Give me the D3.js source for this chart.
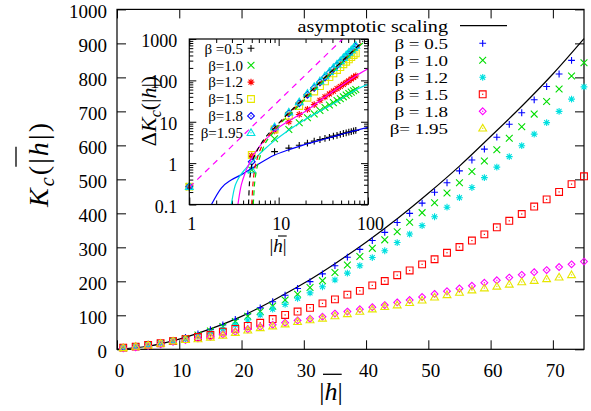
<!DOCTYPE html>
<html>
<head>
<meta charset="utf-8">
<script src="https://cdn.jsdelivr.net/npm/d3@7"></script>
<style>
  html, body { margin: 0; padding: 0; background: #fff; }
  svg { display: block; }
</style>
</head>
<body>
<svg id="chart" width="591" height="411"></svg>
<script>
// ---------- main panel data: K_c(|h|) ----------
const hMain = [1,3,5,7,9,11,13,15,17,19,21,23,25,27,29,31,33,35,37,39,41,43,45,47,49,51,53,55,57,59,61,63,65,67,69,71,73,75];

const kBeta05  = [6,10,15,20,26,35,45,58,72,88,104,122,140,159,179,199,222,246,271,294,320,344,373,400,430,462,490,525,557,589,624,662,696,734,773,810,850];
const kBeta10  = [5,8,13,18,25,32,42,54,67,82,97,111,127,145,162,182,202,226,248,273,297,322,346,374,402,431,460,490,523,554,587,621,655,692,729,766,804,843];
const kBeta12  = [5,8,12,17,24,29,39,47,59,72,86,101,118,132,150,166,184,204,224,246,270,290,314,339,364,390,418,446,476,505,536,567,599,633,667,700,736,772];
const kBeta15  = [5,8,13,18,24,30,36,42,52,60,69,78,89,101,111,122,135,147,161,172,188,201,218,232,250,265,284,301,320,338,359,378,398,420,441,463,486,509];
const kBeta18  = [3,6,10,15,22,27,32,37,44,52,59,66,72,78,85,90,96,105,111,118,124,130,138,145,154,163,171,179,187,196,203,211,219,227,233,242,250,258];
const kBeta195 = [4,8,12,17,24,28,30,35,41,49,56,63,68,74,81,86,91,98,104,111,118,125,130,137,144,153,160,167,174,180,185,191,198,202,207,212,219];

// asymptotic scaling curve
const asymH = [0,5,10,15,20,25,30,35,40,45,50,55,60,65,70,75];
const asymK = [0,9,30,60,97,143,194,252,315,384,459,539,626,715,810,914];

const mainLabels = ["β = 0.5","β = 1.0","β = 1.2","β = 1.5","β = 1.8","β= 1.95"];
const mainColors = ["#0000ff","#00dd00","#00e0e0","#ff0000","#ff00ff","#e6e600"];
const mainShapes = ["plus","cross","star","square","diamond","triangle"];

const mainXTicks = [0,10,20,30,40,50,60,70];
const mainYTicks = [0,100,200,300,400,500,600,700,800,900,1000];

// ---------- inset data: ΔK_c(|h|), log-log ----------
const hInset = [1,5,9,13,17,21,25,29,33,37,41,45,49,53,57,61,65,69,73];

const dBeta05  = [0.27,1.43,1.9,2.3,2.7,3.05,3.4,3.7,3.95,4.2,4.5,4.7,4.95,5.2,5.4,5.6,5.8,6.0,6.2];
const dBeta10  = [0.27,0.68,3.9,6.5,9.5,12.5,15.5,18.7,22,25.5,29,32.5,36,40,44,48,52,56,60];
const dBeta12  = [0.27,1.5,6,10,15,20,26,33,40,47,55,63,71,80,89,98,108,118,128];
const dBeta15  = [0.27,1.57,6.5,14,24,38,54,73,95,120,148,178,210,245,283,322,364,408,450];
const dBeta18  = [0.27,1.08,7,16,28,45,66,90,119,152,190,232,278,330,385,445,510,580,650];
const dBeta195 = [0.27,0.68,7.5,17,30,48,70,96,127,162,202,247,296,351,410,474,544,619,697];

const insetLabels = ["β =0.5","β=1.0","β=1.2","β=1.5","β=1.8","β=1.95"];
const insetColors = ["#000000","#00dd00","#ff0000","#e6e600","#0000ff","#00e0e0"];
const insetShapes = ["plus","cross","star","square","diamond","triangle"];

// fitted curves in the inset, [|h|, ΔK_c] pairs
const fitBeta05  = [[1.77,0.1],[2.28,0.25],[2.94,0.39],[3.8,0.52],[5.35,0.82],[8.9,1.55],[12.5,2.05],[17,2.55],[25,3.25],[40,4.3],[60,5.5],[100,7.3]];
const fitBeta10  = [[2.95,0.1],[3.2,0.25],[3.47,0.39],[4.3,0.75],[5.35,1.25],[7,2.2],[9,3.5],[12.6,6],[20,11.5],[30,18.8],[40,26.5],[60,46],[73,59],[100,80]];
const fitBeta12  = [[3.5,0.1],[3.75,0.25],[4.0,0.42],[4.9,1.2],[6.5,3],[8,4.7],[10,7.2],[15,12.5],[20,18],[30,34],[40,53],[60,96],[73,128],[100,190]];
const fitDashK   = [[4.6,0.1],[4.7,0.3],[4.85,0.6],[5.1,1.1],[5.6,1.8],[7,4],[9,7.2],[13,16.5],[17,29],[25,66],[40,175],[60,400],[73,600],[88,900]];
const fitDashR   = [[5.0,0.1],[5.15,0.3],[5.35,0.65],[5.7,1.2],[6.5,2.6],[9,6.6],[17,27],[40,170],[73,590],[90,900]];
const fitDashG   = [[5.2,0.1],[5.35,0.28],[5.55,0.55],[5.9,1.0],[6.7,2.3],[9,6],[17,25],[40,160],[73,560],[92,880]];
const slopeTwo   = [[1,0.26],[52,1000]];

const insetXMajor = [1,10,100];
const insetYMajor = [0.1,1,10,100,1000];

// ---------- drawing ----------
const FONT = '"Liberation Serif","Times New Roman",Times,serif';
const svg = d3.select("#chart");

const x = d3.scaleLinear().domain([0, 75]).range([117, 584]);
const y = d3.scaleLinear().domain([0, 1000]).range([349.3, 9.4]);

function markerPath(shape, r) {
  switch (shape) {
    case "plus": return `M${-r},0H${r}M0,${-r}V${r}`;
    case "cross": return `M${-r},${-r}L${r},${r}M${-r},${r}L${r},${-r}`;
    case "star": {
      const d = r * 0.72;
      return `M${-r},0H${r}M0,${-r}V${r}M${-d},${-d}L${d},${d}M${-d},${d}L${d},${-d}`;
    }
    case "square": return `M${-r},${-r}H${r}V${r}H${-r}Z`;
    case "diamond": return `M0,${-r}L${r},0L0,${r}L${-r},0Z`;
    case "triangle": return `M0,${-r * 1.15}L${r * 1.15},${r * 0.8}L${-r * 1.15},${r * 0.8}Z`;
  }
}
const hasDot = new Set(["square", "diamond", "triangle"]);

function drawMarkers(g, pts, shape, color, r) {
  const grp = g.append("g");
  grp.selectAll("path").data(pts).join("path")
    .attr("transform", d => `translate(${d[0]},${d[1]})`)
    .attr("d", markerPath(shape, r))
    .attr("fill", "none").attr("stroke", color).attr("stroke-width", 1.1);
  if (hasDot.has(shape)) {
    grp.selectAll("rect").data(pts).join("rect")
      .attr("x", d => d[0] - 0.6).attr("y", d => d[1] - 0.6)
      .attr("width", 1.2).attr("height", 1.2).attr("fill", color);
  }
}

function styleAxis(g, size) {
  g.attr("font-family", FONT).attr("font-size", size);
  g.select(".domain").remove();
  g.selectAll(".tick line").attr("stroke", "#000").attr("stroke-width", 1);
  g.selectAll(".tick text").attr("fill", "#000");
}

// main axes (inward ticks on all four sides)
svg.append("g").attr("transform", "translate(117,0)")
  .call(d3.axisLeft(y).tickValues(mainYTicks).tickSizeInner(-9).tickSizeOuter(0).tickPadding(10).tickFormat(d3.format("d")))
  .call(g => styleAxis(g, 19))
  .call(g => g.selectAll(".tick text").attr("dy", "0.42em"));
svg.append("g").attr("transform", "translate(584,0)")
  .call(d3.axisRight(y).tickValues(mainYTicks).tickSizeInner(-9).tickSizeOuter(0).tickFormat(""))
  .call(g => styleAxis(g, 19));
svg.append("g").attr("transform", "translate(0,349.3)")
  .call(d3.axisBottom(x).tickValues(mainXTicks).tickSizeInner(-9).tickSizeOuter(0).tickPadding(14).tickFormat(d3.format("d")))
  .call(g => styleAxis(g, 19))
  .call(g => g.selectAll(".tick text").attr("dx", 2));
svg.append("g").attr("transform", "translate(0,9.4)")
  .call(d3.axisTop(x).tickValues(mainXTicks).tickSizeInner(-9).tickSizeOuter(0).tickFormat(""))
  .call(g => styleAxis(g, 19));

svg.append("rect").attr("x", 117).attr("y", 9.4).attr("width", 467).attr("height", 339.9)
  .attr("fill", "none").attr("stroke", "#000").attr("stroke-width", 1.2);

// asymptotic scaling curve
const asymLine = d3.line().x(d => x(d[0])).y(d => y(d[1])).curve(d3.curveMonotoneX);
svg.append("path").attr("d", asymLine(d3.zip(asymH, asymK)))
  .attr("fill", "none").attr("stroke", "#000").attr("stroke-width", 1.2);

// main series markers
const mainValues = [kBeta05, kBeta10, kBeta12, kBeta15, kBeta18, kBeta195];
const mainLayer = svg.append("g");
mainValues.forEach((vals, i) => {
  const pts = vals.map((v, j) => [x(hMain[j]), y(v)]);
  drawMarkers(mainLayer, pts, mainShapes[i], mainColors[i], 3.4);
});

// main legend (text widened horizontally, like the postscript terminal output)
const leg = svg.append("g").attr("font-family", FONT);
leg.append("g").attr("transform", "translate(448,32) scale(1.26,1)")
  .append("text").attr("font-size", 16).attr("text-anchor", "end").text("asymptotic scaling");
leg.append("line").attr("x1", 460).attr("x2", 507).attr("y1", 25.7).attr("y2", 25.7)
  .attr("stroke", "#000").attr("stroke-width", 1.2);
mainLabels.forEach((lab, i) => {
  const yy = 43.3 + 17 * i;
  leg.append("g").attr("transform", `translate(448,${yy + 5.8}) scale(1.3,1)`)
    .append("text").attr("font-size", 14.6).attr("text-anchor", "end").text(lab);
  drawMarkers(leg, [[482.7, yy]], mainShapes[i], mainColors[i], 3.4);
});

// main axis titles
const xt = svg.append("text").attr("font-family", FONT).attr("font-size", 26)
  .attr("x", 331).attr("y", 399.5).attr("text-anchor", "middle");
xt.append("tspan").text("|");
xt.append("tspan").attr("font-style", "italic").text("h");
xt.append("tspan").text("|");
svg.append("line").attr("x1", 323).attr("x2", 341.7).attr("y1", 374.3).attr("y2", 374.3)
  .attr("stroke", "#000").attr("stroke-width", 1.3);

const yt = svg.append("text").attr("font-family", FONT).attr("font-size", 28)
  .attr("transform", "translate(48,165) rotate(-90)").attr("text-anchor", "middle")
  .attr("textLength", 84).attr("lengthAdjust", "spacing");
yt.append("tspan").attr("font-style", "italic").text("K");
yt.append("tspan").attr("font-style", "italic").attr("font-size", 20).attr("dy", 6).text("c");
yt.append("tspan").attr("dy", -6).text("(|");
yt.append("tspan").attr("font-style", "italic").text("h");
yt.append("tspan").text("|)");
svg.append("line").attr("x1", 16).attr("x2", 16).attr("y1", 146.7).attr("y2", 166.7)
  .attr("stroke", "#000").attr("stroke-width", 1.3);

// ---------- inset ----------
const IL = 189.3, IR = 368, IT = 39, IB = 204.5;
const xi = d3.scaleLog().domain([1, 100]).range([IL, IR]);
const yi = d3.scaleLog().domain([0.1, 1000]).range([IB, IT]);

svg.append("rect").attr("x", IL).attr("y", IT).attr("width", IR - IL).attr("height", IB - IT).attr("fill", "#fff");

const xMinor = [], yMinor = [];
[1, 10].forEach(b => { for (let k = 2; k <= 9; k++) xMinor.push(b * k); });
[0.1, 1, 10, 100].forEach(b => { for (let k = 2; k <= 9; k++) yMinor.push(b * k); });

svg.append("g").attr("transform", `translate(0,${IB})`)
  .call(d3.axisBottom(xi).tickValues(insetXMajor).tickSizeInner(-7).tickSizeOuter(0).tickPadding(13).tickFormat(d3.format("")))
  .call(g => styleAxis(g, 18))
  .call(g => g.selectAll(".tick text").attr("dx", 2));
svg.append("g").attr("transform", `translate(0,${IB})`)
  .call(d3.axisBottom(xi).tickValues(xMinor).tickSizeInner(-4).tickSizeOuter(0).tickFormat(""))
  .call(g => styleAxis(g, 18));
svg.append("g").attr("transform", `translate(0,${IT})`)
  .call(d3.axisTop(xi).tickValues(insetXMajor).tickSizeInner(-7).tickSizeOuter(0).tickFormat(""))
  .call(g => styleAxis(g, 18));
svg.append("g").attr("transform", `translate(0,${IT})`)
  .call(d3.axisTop(xi).tickValues(xMinor).tickSizeInner(-4).tickSizeOuter(0).tickFormat(""))
  .call(g => styleAxis(g, 18));
svg.append("g").attr("transform", `translate(${IL},0)`)
  .call(d3.axisLeft(yi).tickValues(insetYMajor).tickSizeInner(-7).tickSizeOuter(0).tickPadding(12).tickFormat(d3.format("")))
  .call(g => styleAxis(g, 18))
  .call(g => g.selectAll(".tick text").attr("dy", "0.42em"));
svg.append("g").attr("transform", `translate(${IL},0)`)
  .call(d3.axisLeft(yi).tickValues(yMinor).tickSizeInner(-4).tickSizeOuter(0).tickFormat(""))
  .call(g => styleAxis(g, 18));
svg.append("g").attr("transform", `translate(${IR},0)`)
  .call(d3.axisRight(yi).tickValues(insetYMajor).tickSizeInner(-7).tickSizeOuter(0).tickFormat(""))
  .call(g => styleAxis(g, 18));
svg.append("g").attr("transform", `translate(${IR},0)`)
  .call(d3.axisRight(yi).tickValues(yMinor).tickSizeInner(-4).tickSizeOuter(0).tickFormat(""))
  .call(g => styleAxis(g, 18));

// inset markers
const insetValues = [dBeta05, dBeta10, dBeta12, dBeta15, dBeta18, dBeta195];
const insetLayer = svg.append("g");
insetValues.forEach((vals, i) => {
  const pts = vals.map((v, j) => [xi(hInset[j]), yi(v)]);
  drawMarkers(insetLayer, pts, insetShapes[i], insetColors[i], 3.4);
});

// inset fitted curves
svg.append("defs").append("clipPath").attr("id", "insetClip")
  .append("rect").attr("x", IL).attr("y", IT).attr("width", IR - IL).attr("height", IB - IT);
const fitLine = d3.line().x(d => xi(d[0])).y(d => yi(d[1])).curve(d3.curveMonotoneX);
const fits = [
  { pts: fitBeta05, color: "#0000ff", dash: null },
  { pts: fitBeta10, color: "#00e0e0", dash: null },
  { pts: fitBeta12, color: "#ff00ff", dash: null },
  { pts: fitDashR,  color: "#ff0000", dash: "5,4" },
  { pts: fitDashG,  color: "#00dd00", dash: "5,4" },
  { pts: fitDashK,  color: "#000000", dash: "5,4" },
  { pts: slopeTwo,  color: "#ff00ff", dash: "6,5" }
];
const fitLayer = svg.append("g").attr("clip-path", "url(#insetClip)");
fits.forEach(f => {
  fitLayer.append("path").attr("d", fitLine(f.pts))
    .attr("fill", "none").attr("stroke", f.color).attr("stroke-width", 1.2)
    .attr("stroke-dasharray", f.dash);
});

svg.append("rect").attr("x", IL).attr("y", IT).attr("width", IR - IL).attr("height", IB - IT)
  .attr("fill", "none").attr("stroke", "#000").attr("stroke-width", 1.2);

// inset legend
const ileg = svg.append("g").attr("font-family", FONT).attr("font-size", 15);
insetLabels.forEach((lab, i) => {
  const yy = 48.3 + 16.9 * i;
  ileg.append("text").attr("x", 243).attr("y", yy + 5.3).attr("text-anchor", "end").text(lab);
  drawMarkers(ileg, [[251, yy]], insetShapes[i], insetColors[i], 3.4);
});

// inset axis titles
const ixt = svg.append("text").attr("font-family", FONT).attr("font-size", 19)
  .attr("x", 278).attr("y", 252).attr("text-anchor", "middle");
ixt.append("tspan").text("|");
ixt.append("tspan").attr("font-style", "italic").text("h");
ixt.append("tspan").text("|");
svg.append("line").attr("x1", 278).attr("x2", 286.7).attr("y1", 236).attr("y2", 236)
  .attr("stroke", "#000").attr("stroke-width", 1.1);

const iyt = svg.append("text").attr("font-family", FONT).attr("font-size", 22)
  .attr("transform", "translate(156,111) rotate(-90)").attr("text-anchor", "middle");
iyt.append("tspan").text("Δ");
iyt.append("tspan").attr("font-style", "italic").text("K");
iyt.append("tspan").attr("font-style", "italic").attr("font-size", 16).attr("dy", 5).text("c");
iyt.append("tspan").attr("dy", -5).text("(|");
iyt.append("tspan").attr("font-style", "italic").text("h");
iyt.append("tspan").text("|)");
</script>
</body>
</html>
